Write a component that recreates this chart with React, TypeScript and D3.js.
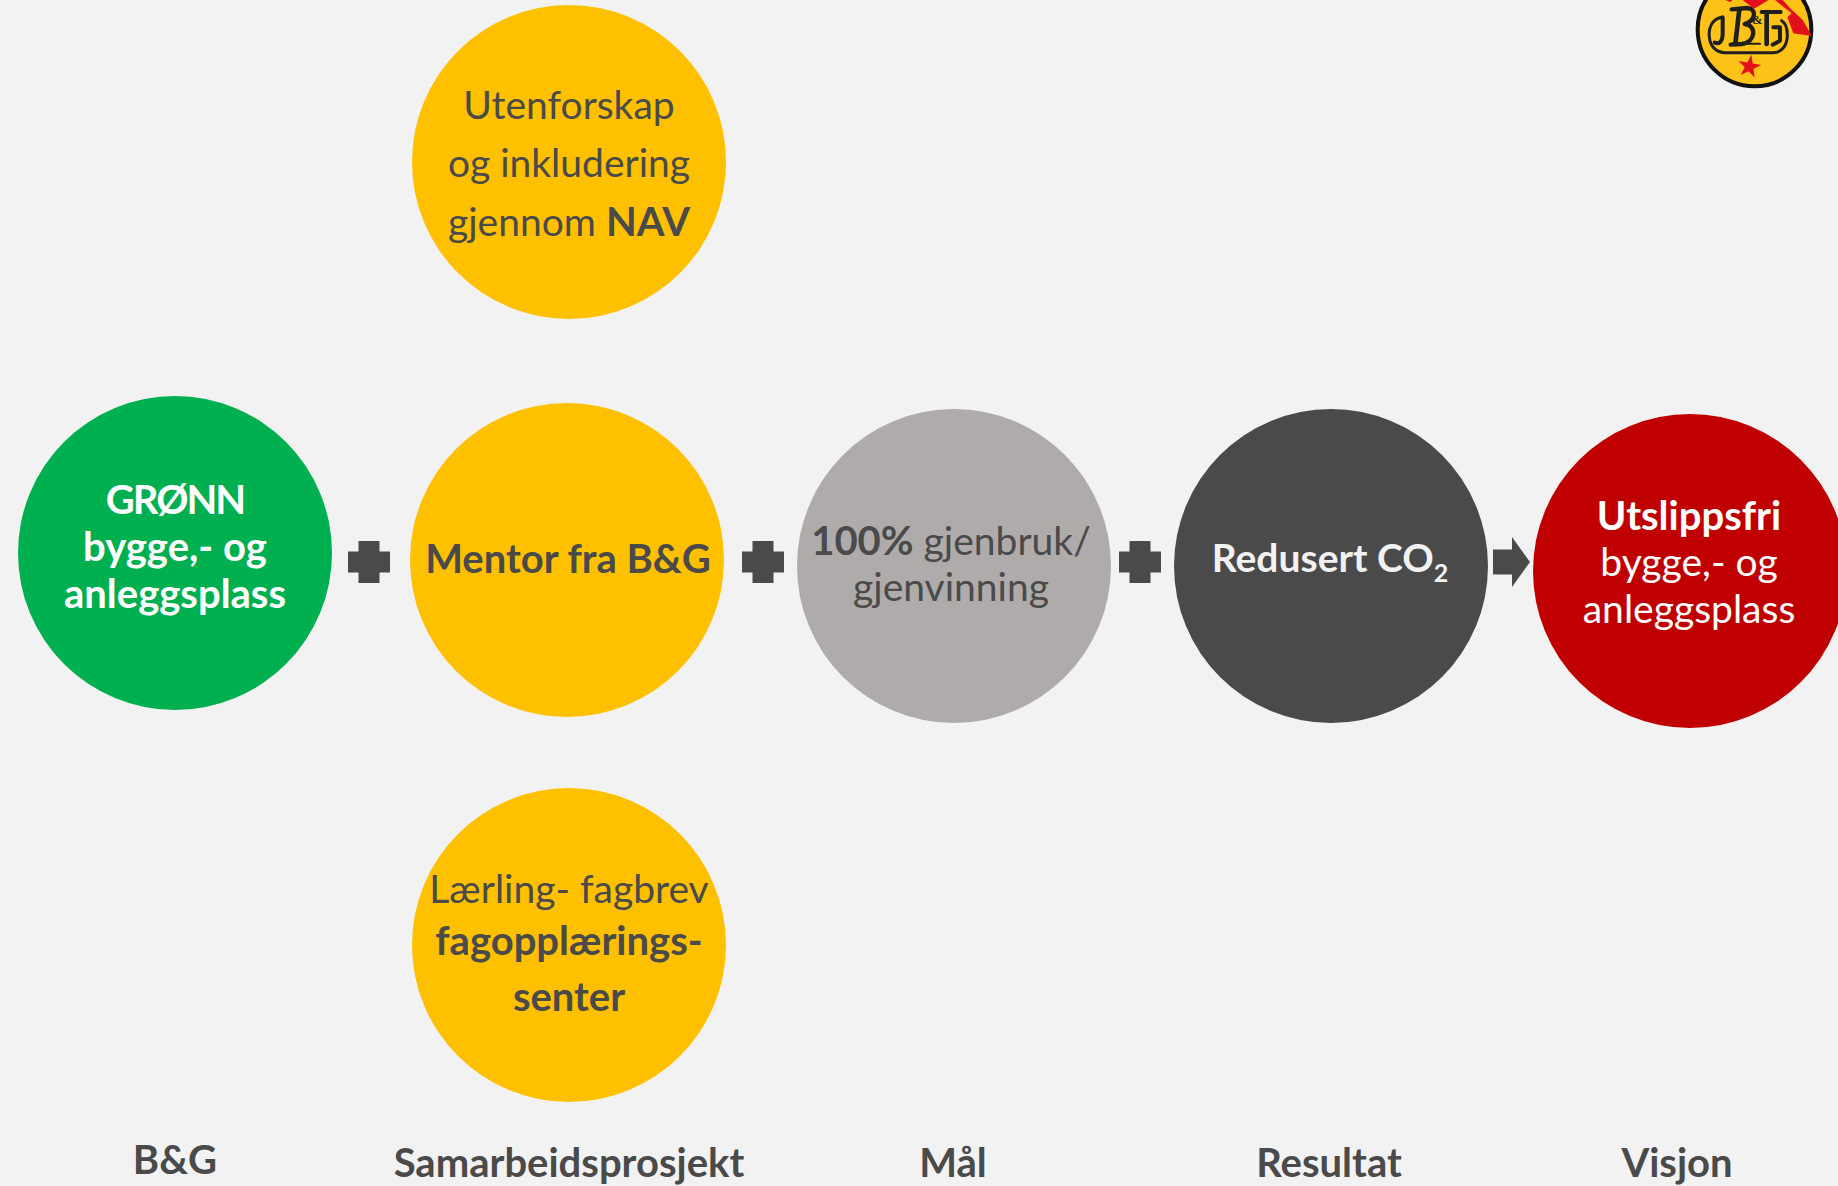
import React from 'react';
import * as d3 from 'd3';

type Run = { text: string; bold?: boolean; sub?: boolean; caps?: boolean };

const stages = ['B&G', 'Samarbeidsprosjekt', 'Mål', 'Resultat', 'Visjon'];

// every circle in the diagram
const nodeNames = ['gronn', 'nav', 'mentor', 'laerling', 'gjenbruk', 'co2', 'utslipp'];
const nodeKinds = ['green', 'yellow', 'yellow', 'yellow', 'grey', 'dark', 'red'];
const nodeLines: Run[][][] = [
  [[{ text: 'GRØNN', bold: true, caps: true }], [{ text: 'bygge,- og', bold: true }], [{ text: 'anleggsplass', bold: true }]],
  [[{ text: 'Utenforskap' }], [{ text: 'og inkludering' }], [{ text: 'gjennom ' }, { text: 'NAV', bold: true }]],
  [[{ text: 'Mentor fra B&G', bold: true }]],
  [[{ text: 'Lærling- fagbrev' }], [{ text: 'fagopplærings-', bold: true }], [{ text: 'senter', bold: true }]],
  [[{ text: '100%', bold: true }, { text: ' gjenbruk/' }], [{ text: 'gjenvinning' }]],
  [[{ text: 'Redusert CO', bold: true }, { text: '2', bold: true, sub: true }]],
  [[{ text: 'Utslippsfri', bold: true }], [{ text: 'bygge,- og' }], [{ text: 'anleggsplass' }]],
];

const connectors = ['plus', 'plus', 'plus', 'arrow'];

const WIDTH = 1838;
const HEIGHT = 1186;
const RADIUS = 157;
const FONT = 'Lato, Carlito, Calibri, sans-serif';
const INK = '#4a4a4a';

const kinds = ['green', 'yellow', 'grey', 'dark', 'red'];
const fillScale = d3.scaleOrdinal<string, string>().domain(kinds).range(['#00b050', '#ffc000', '#afabab', INK, '#c00000']);
const inkScale = d3.scaleOrdinal<string, string>().domain(kinds).range(['#ffffff', INK, INK, '#f2f2f2', '#ffffff']);

// layout, one entry per node
const xScale = d3.scaleOrdinal<string, number>().domain(nodeNames).range([175, 569, 567, 569, 954, 1331, 1690]);
const yScale = d3.scaleOrdinal<string, number>().domain(nodeNames).range([553, 162, 560, 945, 566, 566, 571]);
const textX = d3.scaleOrdinal<string, number>().domain(nodeNames).range([175, 569, 568, 569, 951, 1330, 1689]);
const baselines = [
  [514, 561, 608],
  [119, 177, 236],
  [573],
  [903, 955, 1011],
  [555, 601],
  [572],
  [530, 576, 623],
];

const labelX = d3.scaleOrdinal<string, number>().domain(stages).range([175, 569, 953, 1329, 1677]);
const labelY = d3.scaleOrdinal<string, number>().domain(stages).range([1174, 1177, 1177, 1177, 1177]);

const line = d3.line();

const plusPath = (cx: number, cy: number) => {
  const a = 21;
  const b = 10.5;
  return line([
    [cx - b, cy - a], [cx + b, cy - a], [cx + b, cy - b], [cx + a, cy - b], [cx + a, cy + b], [cx + b, cy + b],
    [cx + b, cy + a], [cx - b, cy + a], [cx - b, cy + b], [cx - a, cy + b], [cx - a, cy - b], [cx - b, cy - b],
  ])! + 'Z';
};

const arrowPath = (x: number, cy: number) =>
  line([
    [x, cy - 12.5], [x + 19, cy - 12.5], [x + 19, cy - 25], [x + 37, cy], [x + 19, cy + 25], [x + 19, cy + 12.5], [x, cy + 12.5],
  ])! + 'Z';

const connectorX = [369, 763, 1140, 1493];
const connectorY = [562, 562, 562, 562];

function Node({ index }: { index: number }) {
  const name = nodeNames[index];
  const kind = nodeKinds[index];
  const lines = nodeLines[index];
  const size = name === 'co2' ? 39 : 40;
  return (
    <g>
      <circle cx={xScale(name)} cy={yScale(name)} r={RADIUS} fill={fillScale(kind)} />
      <text textAnchor="middle" fontFamily={FONT} fontSize={39} fill={inkScale(kind)}>
        {lines.map((runs, li) => (
          <tspan key={li} x={textX(name)} y={baselines[index][li]}>
            {runs.map((r, ri) => (
              <tspan
                key={ri}
                fontWeight={r.bold ? 700 : 400}
                fontSize={r.sub ? 25 : r.bold ? size : 39}
                letterSpacing={r.caps ? -2 : undefined}
                dy={r.sub ? 10 : undefined}
              >
                {r.text}
              </tspan>
            ))}
          </tspan>
        ))}
      </text>
    </g>
  );
}

// drawn in 3x units, same as a crop of the corner
function Logo() {
  const star = d3.symbol(d3.symbolStar, 1500)();
  const dark = '#1f1f1f';
  const red = '#e3101c';
  return (
    <g transform="translate(1660,0) scale(0.3333)">
      <circle cx={283.5} cy={88.5} r={170.5} fill="#fdc217" stroke="#111111" strokeWidth={12} />
      <path d="M248,0 L282,26 L326,0 Z" fill={red} />
      <path d="M345,0 L395,40 L382,52 L400,100 L456,108 L428,60 L392,26 L368,0 Z" fill={red} />
      <path d="M195,0 L217,0 L212,6 Z" fill={red} />
      <g fill="none" stroke={dark} strokeLinecap="round" strokeLinejoin="round">
        <path d="M185,52 C155,58 145,85 148,110 C150,140 170,158 195,158 L340,158 C370,158 382,130 382,105 C382,85 375,68 365,62" strokeWidth={9} />
        <path d="M188,52 L188,100 C188,125 178,134 164,128" strokeWidth={12} />
        <path d="M215,28 L262,24 C292,26 287,62 254,72 C292,76 287,128 245,132 L212,134" strokeWidth={13} />
        <path d="M238,28 L226,132" strokeWidth={14} />
        <path d="M215,131 L300,131" strokeWidth={6} />
        <path d="M305,36 L362,36" strokeWidth={12} />
        <path d="M320,36 L320,132" strokeWidth={14} />
        <path d="M340,82 L360,82 L360,122 L338,134" strokeWidth={12} />
      </g>
      <text x={276} y={72} fontFamily="'Liberation Serif', serif" fontWeight={700} fontSize={38} fill={dark}>&amp;</text>
      <path d={star!} transform="translate(268,200) rotate(10)" fill={red} />
    </g>
  );
}

export default function App() {
  return (
    <svg
      width={WIDTH}
      height={HEIGHT}
      viewBox={`0 0 ${WIDTH} ${HEIGHT}`}
      style={{ position: 'absolute', left: 0, top: 0, display: 'block', background: '#f2f2f2' }}
    >
      {nodeNames.map((_, i) => (
        <Node key={i} index={i} />
      ))}
      {connectors.map((c, i) => (
        <path
          key={i}
          d={c === 'plus' ? plusPath(connectorX[i], connectorY[i]) : arrowPath(connectorX[i], connectorY[i])}
          fill={INK}
        />
      ))}
      {stages.map((s) => (
        <text
          key={s}
          x={labelX(s)}
          y={labelY(s)}
          textAnchor="middle"
          fontFamily={FONT}
          fontWeight={700}
          fontSize={40}
          fill={INK}
        >
          {s}
        </text>
      ))}
      <Logo />
    </svg>
  );
}
